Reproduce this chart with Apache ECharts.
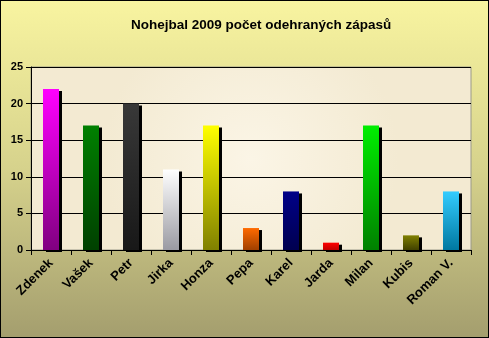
<!DOCTYPE html>
<html><head><meta charset="utf-8">
<script src="https://cdn.jsdelivr.net/npm/echarts@6/dist/echarts.min.js"></script>
<style>
html,body{margin:0;padding:0;}
#c{width:487px;height:336px;border:1px solid #000;}
</style></head>
<body><div id="c"></div>
<script>
const categories = ["Zdenek","Vašek","Petr","Jirka","Honza","Pepa","Karel","Jarda","Milan","Kubis","Roman V."];
const values = [22,17,20,11,17,3,8,1,17,2,8];
const topColors = ["#ff00ff","#008000","#383838","#ffffff","#ffff00","#ff6a00","#000088","#ff0000","#00ee00","#808000","#33ccff"];
const bottomColors = ["#800080","#004000","#181818","#9a9aa2","#808000","#a04000","#000050","#c00000","#008000","#404000","#0078a0"];
const yTicks = [0,5,10,15,20,25];

const chart = echarts.init(document.getElementById('c'), null, {renderer:'canvas'});
chart.setOption({
  animation:false,
  backgroundColor:{type:'linear',x:0,y:0,x2:0,y2:1,colorStops:[{offset:0,color:'#f8f4a0'},{offset:0.5,color:'#d6d28c'},{offset:1,color:'#a49e6e'}]},
  title:{text:'Nohejbal 2009 počet odehraných zápasů',left:125,top:12,
    textStyle:{fontFamily:'Liberation Sans, Arial',fontSize:13.5,fontWeight:'bold',color:'#000'}},
  grid:{left:30,right:17,top:66,bottom:87,show:true,borderColor:'#9a9a8a',borderWidth:1,
    backgroundColor:{type:'radial',x:0.5,y:0.5,r:0.8,colorStops:[{offset:0,color:'#fbf5e6'},{offset:1,color:'#f3ead2'}]}},
  xAxis:{type:'category',data:categories,
    axisLine:{lineStyle:{color:'#000',width:1}},
    axisTick:{show:true,inside:false,length:5,lineStyle:{color:'#000'}},
    axisLabel:{rotate:45,interval:0,fontFamily:'Liberation Sans, Arial',fontWeight:'bold',fontSize:13,color:'#000',margin:11}},
  yAxis:{type:'value',min:0,max:25,interval:5,
    axisLine:{show:true,lineStyle:{color:'#000'}},
    axisTick:{show:true,length:5,lineStyle:{color:'#000'}},
    splitLine:{lineStyle:{color:'#000',width:1}},
    axisLabel:{fontFamily:'Liberation Sans, Arial',fontWeight:'bold',fontSize:11,color:'#000',margin:8,
      formatter:v=>yTicks.includes(v)?String(v):''}},
  series:[{type:'bar',barWidth:16,
    data:values.map((v,i)=>({value:v,itemStyle:{
      color:{type:'linear',x:0,y:0,x2:0,y2:1,colorStops:[{offset:0,color:topColors[i]},{offset:1,color:bottomColors[i]}]},
      shadowColor:'#000',shadowBlur:0,shadowOffsetX:3,shadowOffsetY:2}})),
  }]
});
</script></body></html>
